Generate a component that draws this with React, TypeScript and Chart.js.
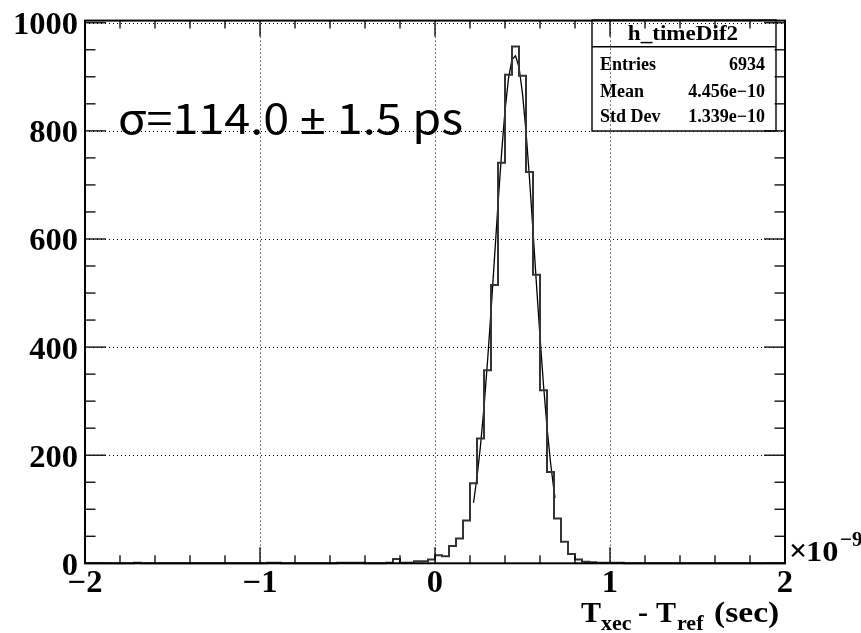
import React, { useEffect, useRef } from "react";
import { Chart, registerables } from "chart.js";
Chart.register(...registerables);

// Histogram h_timeDif2: 100 bins from -2 to 2 (x in units of 1e-9 s)
const BIN_LOW = -2;
const BIN_WIDTH = 0.04;
const counts = [
  0, 0, 0, 0, 0, 0, 0, 1, 0, 0,
  0, 0, 0, 0, 0, 0, 0, 0, 0, 0,
  0, 0, 0, 0, 0, 0, 1, 1, 0, 0,
  0, 0, 0, 0, 0, 0, 1, 1, 1, 1,
  0, 0, 0, 1, 8, 1, 1, 4, 4, 7,
  15, 13, 32, 46, 79, 148, 231, 357, 515, 741,
  904, 956, 902, 724, 534, 320, 169, 83, 40, 17,
  7, 3, 2, 1, 1, 1, 1, 0, 0, 0,
  0, 0, 0, 0, 0, 0, 0, 0, 0, 0,
  0, 0, 0, 0, 0, 0, 0, 0, 0, 0,
];

// Gaussian fit curve
const fitX = [0.22, 0.24, 0.26, 0.28, 0.30, 0.32, 0.34, 0.36, 0.38, 0.40, 0.42, 0.44, 0.46, 0.48, 0.50, 0.52, 0.54, 0.56, 0.58, 0.60, 0.62, 0.64, 0.66, 0.68, 0.686];
const fitY = [112, 159, 218, 289, 373, 466, 565, 664, 757, 837, 897, 932, 939, 918, 869, 799, 712, 615, 515, 419, 330, 252, 187, 134, 121];

// Axes
const X_MIN = -2;
const X_MAX = 2;
const Y_MIN = 0;
const Y_MAX = 1004;
const xMajorTicks = [-2, -1, 0, 1, 2];
const xMinorTicks = [-1.8, -1.6, -1.4, -1.2, -0.8, -0.6, -0.4, -0.2, 0.2, 0.4, 0.6, 0.8, 1.2, 1.4, 1.6, 1.8];
const xTickLabels = ["\u22122", "\u22121", "0", "1", "2"];
const yMajorTicks = [0, 200, 400, 600, 800, 1000];
const yMinorTicks = [50, 100, 150, 250, 300, 350, 450, 500, 550, 650, 700, 750, 850, 900, 950];
const yTickLabels = ["0", "200", "400", "600", "800", "1000"];
const xGridValues = [-1, 0, 1];
const yGridValues = [200, 400, 600, 800, 1000];

// Texts
const histName = "h_timeDif2";
const statNames = ["Entries", "Mean", "Std Dev"];
const statValues = ["6934", "4.456e\u221210", "1.339e\u221210"];
const sigmaParts = ["\u03c3=114.0 ", "\u00b1", " 1.5 ps"];

const SERIF = '"Liberation Serif", "Times New Roman", serif';

function txt(ctx: CanvasRenderingContext2D, s: string, x: number, y: number, font: string, align: CanvasTextAlign = "left", sx = 1) {
  ctx.save();
  ctx.font = font;
  ctx.textAlign = align;
  ctx.textBaseline = "alphabetic";
  ctx.fillStyle = "#000";
  ctx.translate(x, y);
  ctx.scale(sx, 1);
  ctx.fillText(s, 0, 0);
  ctx.restore();
}

function seg(ctx: CanvasRenderingContext2D, x1: number, y1: number, x2: number, y2: number) {
  ctx.beginPath();
  ctx.moveTo(x1, y1);
  ctx.lineTo(x2, y2);
  ctx.stroke();
}

const rootPlugin = {
  id: "rootDecor",
  beforeDatasetsDraw(chart: any) {
    const { ctx, chartArea: ca, scales } = chart;
    const xs = scales.x, ys = scales.y;
    ctx.save();
    ctx.strokeStyle = "#000";
    ctx.lineWidth = 1;
    ctx.setLineDash([1, 3]);
    for (const v of xGridValues) {
      const px = Math.round(xs.getPixelForValue(v)) + 0.5;
      seg(ctx, px, ca.top, px, ca.bottom);
    }
    for (const v of yGridValues) {
      const py = Math.round(ys.getPixelForValue(v)) + 0.5;
      seg(ctx, ca.left, py, ca.right, py);
    }
    ctx.restore();
  },
  afterDraw(chart: any) {
    const { ctx, chartArea: ca, scales } = chart;
    const xs = scales.x, ys = scales.y;
    ctx.save();
    ctx.strokeStyle = "#000";
    ctx.setLineDash([]);
    // ticks
    ctx.lineWidth = 1.3;
    const xMajLen = 16, xMinLen = 8, yMajLen = 21, yMinLen = 10.5;
    for (const v of xMajorTicks) {
      const px = xs.getPixelForValue(v);
      seg(ctx, px, ca.bottom, px, ca.bottom - xMajLen);
      seg(ctx, px, ca.top, px, ca.top + xMajLen);
    }
    for (const v of xMinorTicks) {
      const px = xs.getPixelForValue(v);
      seg(ctx, px, ca.bottom, px, ca.bottom - xMinLen);
      seg(ctx, px, ca.top, px, ca.top + xMinLen);
    }
    for (const v of yMajorTicks) {
      const py = ys.getPixelForValue(v);
      seg(ctx, ca.left, py, ca.left + yMajLen, py);
      seg(ctx, ca.right, py, ca.right - yMajLen, py);
    }
    for (const v of yMinorTicks) {
      const py = ys.getPixelForValue(v);
      seg(ctx, ca.left, py, ca.left + yMinLen, py);
      seg(ctx, ca.right, py, ca.right - yMinLen, py);
    }
    // frame
    ctx.lineWidth = 2;
    ctx.strokeRect(ca.left, ca.top, ca.right - ca.left, ca.bottom - ca.top);

    // tick labels
    const tickFont = `bold 31px ${SERIF}`;
    yMajorTicks.forEach((v, i) => {
      const py = ys.getPixelForValue(v);
      txt(ctx, yTickLabels[i], 78, py + 11.5, tickFont, "right", 1.05);
    });
    xMajorTicks.forEach((v, i) => {
      const px = xs.getPixelForValue(v);
      txt(ctx, xTickLabels[i], px, 592, tickFont, "center", 1.05);
    });
    // exponent
    txt(ctx, "\u00d7", 789, 561, `bold 32px ${SERIF}`, "left");
    txt(ctx, "10", 806, 561, `bold 30px ${SERIF}`, "left", 1.08);
    txt(ctx, "\u22129", 840, 546, `bold 21px ${SERIF}`, "left");

    // axis title: T_xec - T_ref (sec)
    const tFont = `bold 30px ${SERIF}`;
    const sFont = `bold 22px ${SERIF}`;
    txt(ctx, "T", 581, 622, tFont, "left", 1.0);
    txt(ctx, "xec", 601, 630, sFont, "left", 1.0);
    txt(ctx, "-", 638, 622, tFont, "left", 1.0);
    txt(ctx, "T", 656, 622, tFont, "left", 1.0);
    txt(ctx, "ref", 677, 630, sFont, "left", 1.0);
    txt(ctx, "(sec)", 714, 622, tFont, "left", 1.12);

    // stats box (transparent)
    ctx.lineWidth = 1.4;
    const bx = 592, by = 20, bw = 776 - 592, bh = 131 - 20;
    ctx.strokeRect(bx, by, bw, bh);
    seg(ctx, bx, 46.7, bx + bw, 46.7);
    txt(ctx, histName, 683, 40, `bold 22px ${SERIF}`, "center", 1.05);
    const rowBase = [70, 97, 122];
    statNames.forEach((n, i) => {
      txt(ctx, n, 600, rowBase[i], `bold 18px ${SERIF}`, "left");
      txt(ctx, statValues[i], 765, rowBase[i], `bold 18px ${SERIF}`, "right");
    });

    // sigma annotation
    ctx.save();
    const mainFont = `400 42px "Noto Sans CJK JP", "Noto Sans", sans-serif`;
    const pmFont = `400 42px "Noto Sans", "DejaVu Sans", sans-serif`;
    const fonts = [mainFont, pmFont, mainFont];
    let total = 0;
    const widths = sigmaParts.map((p, i) => {
      ctx.font = fonts[i];
      const w = ctx.measureText(p).width;
      total += w;
      return w;
    });
    const targetW = 345;
    ctx.translate(118, 134);
    ctx.scale(targetW / total, 1);
    ctx.fillStyle = "#000";
    ctx.textBaseline = "alphabetic";
    let cx = 0;
    sigmaParts.forEach((p, i) => {
      ctx.font = fonts[i];
      ctx.fillText(p, cx, 0);
      cx += widths[i];
    });
    ctx.restore();

    ctx.restore();
  },
};

export default function App() {
  const ref = useRef<HTMLCanvasElement>(null);
  useEffect(() => {
    const canvas = ref.current!;
    const histPoints = counts.map((c, i) => ({ x: BIN_LOW + i * BIN_WIDTH, y: c }));
    histPoints.push({ x: BIN_LOW + counts.length * BIN_WIDTH, y: counts[counts.length - 1] });
    const fitPoints = fitX.map((x, i) => ({ x, y: fitY[i] }));
    const chart = new Chart(canvas, {
      type: "line",
      data: {
        datasets: [
          {
            data: histPoints,
            stepped: true,
            borderColor: "#333",
            borderWidth: 2,
            pointRadius: 0,
            fill: false,
            clip: false,
          } as any,
          {
            data: fitPoints,
            borderColor: "#000",
            borderWidth: 1.3,
            pointRadius: 0,
            tension: 0,
            fill: false,
          },
        ],
      },
      options: {
        responsive: false,
        animation: false,
        devicePixelRatio: 1,
        events: [],
        layout: { padding: { left: 85, right: 76, top: 20.6, bottom: 69.7 } },
        scales: {
          x: { type: "linear", min: X_MIN, max: X_MAX, display: false },
          y: { type: "linear", min: Y_MIN, max: Y_MAX, display: false },
        },
        plugins: { legend: { display: false }, tooltip: { enabled: false } },
      },
      plugins: [rootPlugin],
    });
    return () => chart.destroy();
  }, []);
  return (
    <div style={{ position: "absolute", left: 0, top: 0, width: 861, height: 633, background: "#fff" }}>
      <canvas ref={ref} width={861} height={633} style={{ display: "block" }} />
    </div>
  );
}
